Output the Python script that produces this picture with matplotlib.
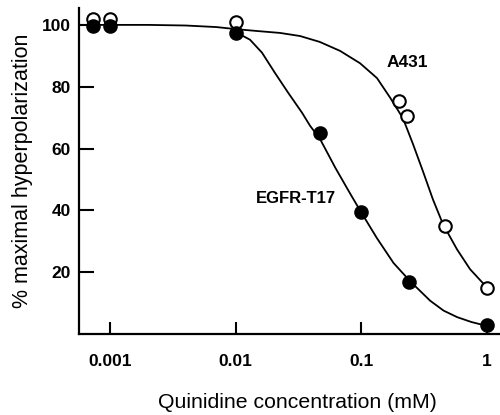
import numpy as np
import matplotlib
matplotlib.use("Agg")
import matplotlib.pyplot as plt
from matplotlib.ticker import FixedLocator, NullLocator

# measured points
a431_x = [0.00073, 0.001, 0.01, 0.2, 0.23, 0.46, 1.0]
a431_y = [102.0, 102.0, 101.0, 75.5, 70.5, 35.0, 15.0]
egfr_x = [0.00073, 0.001, 0.01, 0.047, 0.1, 0.24, 1.0]
egfr_y = [99.5, 99.5, 97.5, 65.0, 39.5, 17.0, 3.0]

# fitted curves
a431_cx = [0.00057, 0.002, 0.004, 0.007, 0.0102, 0.015, 0.0225, 0.0325, 0.0466, 0.0676,
           0.0975, 0.133, 0.169, 0.214, 0.257, 0.309, 0.371, 0.446, 0.576, 0.731, 1.0]
a431_cy = [100.0, 100.0, 99.8, 99.3, 98.6, 98.0, 97.4, 96.4, 94.5, 91.6,
           87.6, 82.8, 76.5, 69.8, 61.5, 52.6, 43.5, 35.5, 27.4, 21.0, 15.0]
egfr_cx = [0.0103, 0.013, 0.0162, 0.0205, 0.0261, 0.0337, 0.039, 0.047, 0.062, 0.0812,
           0.0975, 0.133, 0.18, 0.244, 0.352, 0.45, 0.576, 0.75, 0.877, 1.0]
egfr_cy = [97.4, 95.2, 91.0, 84.5, 78.1, 71.6, 67.4, 63.0, 53.8, 45.5,
           40.0, 31.0, 23.0, 17.1, 10.8, 7.6, 5.5, 3.9, 3.2, 3.0]

xticks = [0.001, 0.01, 0.1, 1]
xticklabels = ["0.001", "0.01", "0.1", "1"]
yticks = [20, 40, 60, 80, 100]

plt.rcParams['font.family'] = ['Liberation Sans', 'DejaVu Sans']

fig = plt.figure(figsize=(5, 4.15), dpi=100)
ax = fig.add_axes([0.158, 0.195, 0.842, 0.786])

ax.plot(a431_cx, a431_cy, color="black", lw=1.3, zorder=2)
ax.plot(egfr_cx, egfr_cy, color="black", lw=1.3, zorder=2)
ax.plot(a431_x, a431_y, "o", ms=9, mfc="white", mec="black", mew=1.5, zorder=3)
ax.plot(egfr_x, egfr_y, "o", ms=9, mfc="black", mec="black", mew=1.5, zorder=3)

ax.set_xscale("log")
ax.set_xlim(0.000567, 1.266)
ax.set_ylim(0, 105.5)

ax.xaxis.set_major_locator(FixedLocator(xticks))
ax.xaxis.set_minor_locator(NullLocator())
ax.set_xticks(xticks)
ax.set_xticklabels(xticklabels)
ax.set_yticks(yticks)

for s in ["top", "right"]:
    ax.spines[s].set_visible(False)
for s in ["left", "bottom"]:
    ax.spines[s].set_linewidth(1.6)

ax.tick_params(axis="y", direction="in", length=11, width=1.5, pad=6, labelsize=12.5)
ax.tick_params(axis="x", direction="in", length=9, width=1.5, pad=14, labelsize=12.5)
for lab in ax.get_xticklabels() + ax.get_yticklabels():
    lab.set_fontweight("bold")

ax.set_ylabel("% maximal hyperpolarization", fontsize=15.5, labelpad=6)
ax.set_xlabel("Quinidine concentration (mM)", fontsize=15.3)
ax.xaxis.set_label_coords(0.518, -0.209)
ax.xaxis.label.set_va("center")

ax.text(0.2307, 87.7, "A431", fontsize=12.5, fontweight="bold", ha="center", va="center")
ax.text(0.0302, 43.9, "EGFR-T17", fontsize=12, fontweight="bold", ha="center", va="center")

fig.savefig("out.png", dpi=100)
